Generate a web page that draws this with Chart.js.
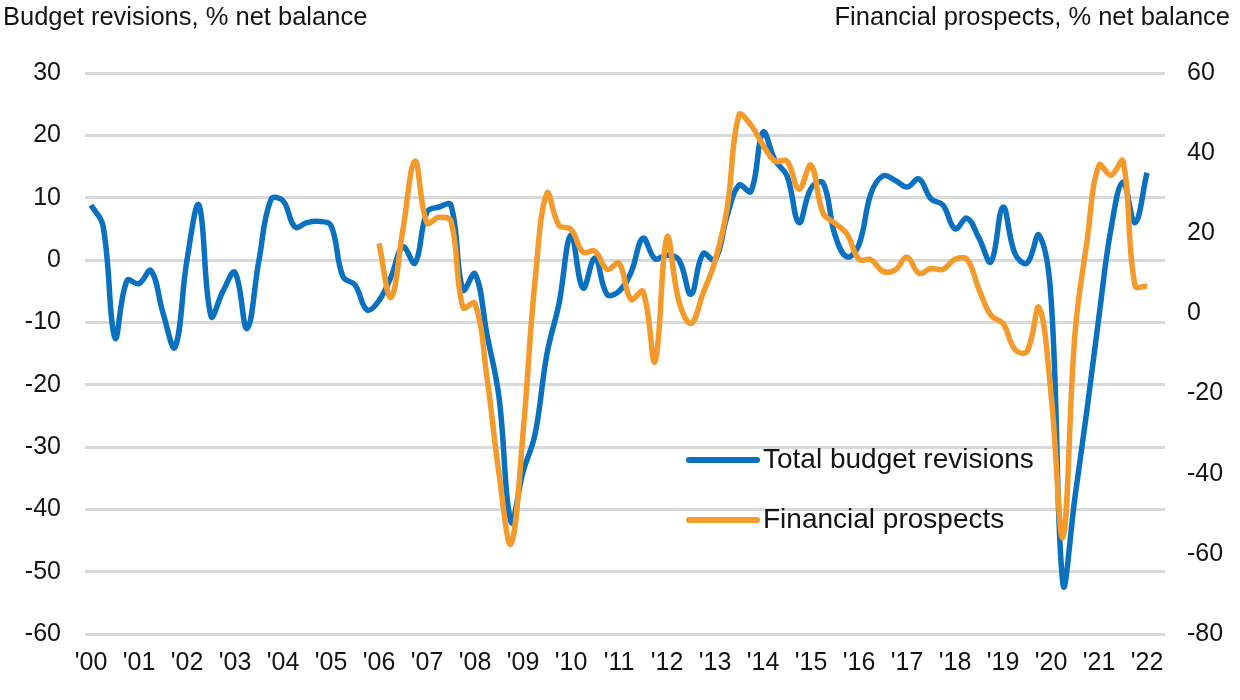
<!DOCTYPE html>
<html>
<head>
<meta charset="utf-8">
<script src="https://cdn.jsdelivr.net/npm/chart.js@4.4.1/dist/chart.umd.min.js"></script>
<style>
  html, body { margin: 0; padding: 0; background: #fff; }
  #wrap { width: 1240px; height: 700px; position: relative; }
</style>
</head>
<body>
<div id="wrap"><canvas id="chart"></canvas></div>
<script>
// quarterly categories, 2000 Q1 .. 2022 Q2 (last slot empty, as in the original)
var quarters = [];
for (var yr = 2000; yr <= 2022; yr++) {
  for (var q = 1; q <= 4; q++) {
    if (yr === 2022 && q > 2) break;
    quarters.push(yr + ' Q' + q);
  }
}

var axisTitles = ['Budget revisions, % net balance', 'Financial prospects, % net balance'];
var seriesNames = ['Total budget revisions', 'Financial prospects'];

// left axis
var budgetRevisions = [
  8.8, 5.5, -12.5, -3.3, -3.8, -1.7, -8.5, -14,     // 2000-01
  0, 8.8, -9, -5, -2, -11, 0, 9.7,                  // 2002-03
  9.5, 5.3, 6, 6.2, 5.5, -2.7, -4, -8,              // 2004-05
  -6.5, -2.7, 2.1, -0.5, 7.7, 8.5, 8.8, -4.8,       // 2006-07
  -2.2, -12, -22, -42, -34, -28, -15, -7,           // 2008-09
  4, -4.5, 0.3, -5.5, -5, -2, 3.5, 0.2,             // 2010-11
  0.8, 0, -5.5, 1, 0, 7, 12, 11,                    // 2012-13
  20.5, 16, 13.5, 6, 11.5, 12.4, 4, 0.5,            // 2014-15
  2.5, 10.7, 13.5, 12.8, 11.7, 13, 9.8, 8.8,        // 2016-17
  5, 6.7, 3.5, -0.3, 8.5, 1, -0.5, 4,               // 2018-19
  -6, -52, -38, -24, -9, 5, 12.5, 6,                // 2020-21
  14                                                // 2022
];

// right axis
var financialProspects = [
  null, null, null, null, null, null, null, null,
  null, null, null, null, null, null, null, null,
  null, null, null, null, null, null, null, null,
  17.5, 4, 21, 38, 22.6, 24, 23, 1.5,               // 2006-07
  2.5, -16, -40, -57.5, -30, 8, 30, 22,             // 2008-09
  21, 15.3, 15.5, 11, 12.5, 3.5, 5.5, -12,          // 2010-11
  19, 3, -2.5, 5, 13, 26, 49.5, 47,                 // 2012-13
  42, 38, 38, 31, 37, 25, 22.5, 19.8,               // 2014-15
  13.5, 13.4, 10.5, 10.8, 14, 10, 11.2, 11,         // 2016-17
  13.5, 13.5, 6, -0.5, -2.5, -9, -9.5, 1.5,         // 2018-19
  -20, -55.8, -5, 18, 37, 34.5, 38, 7,              // 2020-21
  6.8                                               // 2022
];

var FONT = '"Liberation Sans", Arial, sans-serif';
var TEXT = '#141414';

var overlay = {
  id: 'overlay',
  afterDraw: function (chart) {
    var ctx = chart.ctx;
    ctx.save();
    ctx.font = '25.5px ' + FONT;
    ctx.fillStyle = TEXT;
    ctx.textBaseline = 'middle';
    ctx.textAlign = 'left';
    ctx.fillText(axisTitles[0], 3, 18);
    ctx.textAlign = 'right';
    ctx.fillText(axisTitles[1], 1230, 18);

    // legend sits inside the plot
    ctx.font = '28px ' + FONT;
    chart.data.datasets.forEach(function (ds, i) {
      var y = 460 + i * 60;
      ctx.strokeStyle = ds.borderColor;
      ctx.lineWidth = 6;
      ctx.lineCap = 'round';
      ctx.beginPath();
      ctx.moveTo(689, y);
      ctx.lineTo(757, y);
      ctx.stroke();
      ctx.textAlign = 'left';
      ctx.fillText(ds.label, 763, y);
    });
    ctx.restore();
  }
};

new Chart(document.getElementById('chart'), {
  type: 'line',
  data: {
    labels: quarters,
    datasets: [{
      label: seriesNames[0],
      data: budgetRevisions,
      yAxisID: 'y',
      borderColor: '#0A70C0',
      borderWidth: 5.5,
      pointRadius: 0,
      tension: 0.4,
      order: 1
    }, {
      label: seriesNames[1],
      data: financialProspects,
      yAxisID: 'y1',
      borderColor: '#F39A2B',
      borderWidth: 5.5,
      pointRadius: 0,
      tension: 0.4,
      order: 0
    }]
  },
  options: {
    responsive: true,
    maintainAspectRatio: false,
    animation: false,
    layout: { padding: { top: 73, left: 0, right: 0, bottom: 0 } },
    plugins: {
      legend: { display: false },
      tooltip: { enabled: false }
    },
    scales: {
      x: {
        type: 'category',
        offset: true,
        grid: { display: false, drawTicks: false },
        border: { display: false },
        ticks: {
          autoSkip: false,
          maxRotation: 0,
          padding: 14,
          color: TEXT,
          font: { family: FONT, size: 25 },
          callback: function (v, i) {
            var l = quarters[i];
            return l.slice(-2) === 'Q1' ? "'" + l.slice(2, 4) : '';
          }
        },
        afterFit: function (s) { s.height = 66; }
      },
      y: {
        position: 'left',
        min: -60,
        max: 30,
        ticks: { stepSize: 10, padding: 24, color: TEXT, font: { family: FONT, size: 25 } },
        grid: { color: '#D9D9D9', lineWidth: 3, drawTicks: false },
        border: { display: false },
        afterFit: function (s) { s.width = 85; }
      },
      y1: {
        position: 'right',
        min: -80,
        max: 60,
        ticks: { stepSize: 20, padding: 22, color: TEXT, font: { family: FONT, size: 25 } },
        grid: { display: false, drawTicks: false },
        border: { display: false },
        afterFit: function (s) { s.width = 75; }
      }
    }
  },
  plugins: [overlay]
});
</script>
</body>
</html>
